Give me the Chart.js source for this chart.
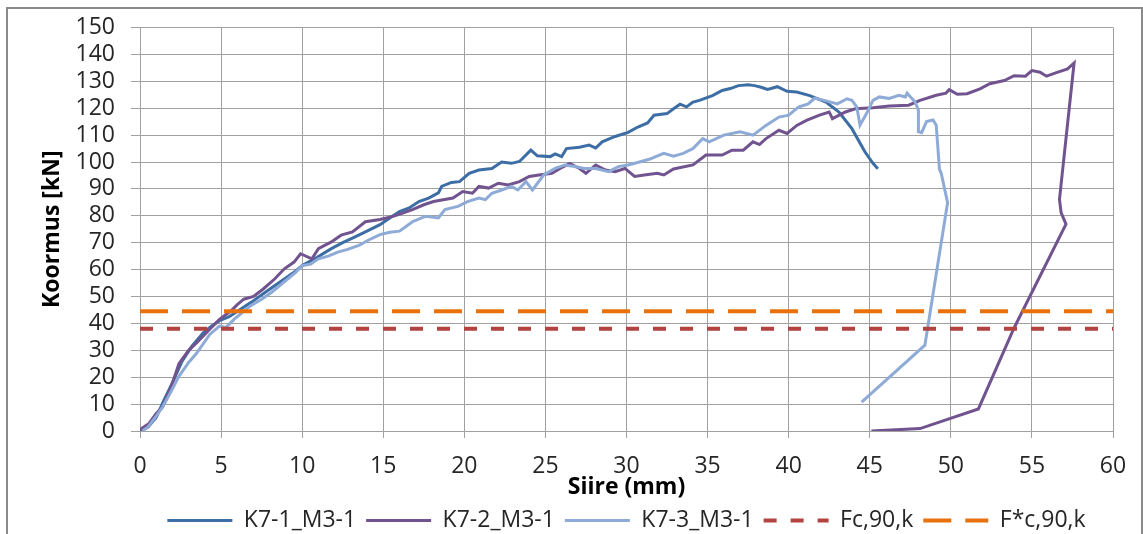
<!DOCTYPE html>
<html>
<head>
<meta charset="utf-8">
<script src="https://cdn.jsdelivr.net/npm/chart.js@4"></script>
<style>
  html, body { margin: 0; padding: 0; overflow: hidden; background: #fff; }
  #wrap { position: relative; width: 1143px; height: 542px; }
  #frame { position: absolute; left: 6px; top: 7px; width: 1137px; height: 560px;
           border: 2px solid #8a8a8a; box-sizing: border-box; pointer-events: none; }
</style>
</head>
<body>
<div id="wrap">
  <canvas id="chart" width="1143" height="542"></canvas>
  <div id="frame"></div>
</div>
<script>
// K7-1_M3-1
const k71X = [0, 0.5, 1.0, 1.4, 2.0, 2.6, 3.2, 3.9, 4.4, 4.9, 5.5, 6.2, 6.9, 7.6, 8.3, 8.9, 9.5, 10.0, 10.9, 11.8,
  12.5, 13.2, 13.9, 14.8, 15.4, 16.0, 16.6, 17.2, 17.8, 18.4, 18.6, 19.2, 19.7, 20.3, 20.9, 21.7, 22.3, 22.9, 23.4, 24.1,
  24.5, 25.3, 25.6, 26.0, 26.3, 27.1, 27.7, 28.1, 28.5, 29.3, 30.1, 30.7, 31.3, 31.7, 32.5, 32.9, 33.3, 33.7, 34.1, 34.5,
  35.3, 35.9, 36.4, 36.9, 37.5, 37.9, 38.3, 38.7, 39.3, 39.9, 40.5, 41.3, 42.3, 43.1, 43.9, 44.7, 45.2, 45.5];
const k71Y = [0, 1.5, 5, 10.5, 18, 26, 31.5, 36.5, 39, 41, 42.5, 45.3, 48, 51, 54, 56.5, 59, 61.5, 64.5, 67.8,
  70, 72, 74, 76.7, 79.2, 81.6, 82.9, 85.3, 86.6, 88.5, 90.9, 92.4, 92.7, 95.8, 97, 97.6, 100, 99.5, 100.2, 104.4,
  102.3, 102, 103, 102, 105, 105.5, 106.3, 105.2, 107.5, 109.5, 111, 113, 114.5, 117.4, 118, 119.8, 121.5, 120.5, 122.3, 122.9,
  124.7, 126.6, 127.3, 128.4, 128.7, 128.4, 127.8, 127, 128, 126.3, 126, 124.7, 122.3, 118.6, 112.4, 103.8, 99.5, 97.5];

// K7-2_M3-1
const k72X = [0, 0.56, 1.0, 1.4, 1.9, 2.4, 3.0, 3.5, 4.3, 4.9, 5.6, 6.0, 6.4, 7.0, 7.6, 8.3, 8.9, 9.5, 9.9, 10.6,
  11.0, 11.8, 12.4, 13.1, 13.9, 14.8, 15.6, 16.2, 16.8, 17.5, 18.1, 18.7, 19.3, 19.9, 20.5, 20.9, 21.5, 22.1, 22.7, 23.4,
  24.0, 24.6, 25.4, 25.9, 26.5, 27.1, 27.5, 28.1, 28.7, 29.3, 29.9, 30.5, 31.1, 31.9, 32.3, 32.9, 34.1, 34.9, 35.9, 36.5,
  37.2, 37.8, 38.2, 38.6, 39.4, 39.9, 40.5, 41.1, 41.9, 42.5, 42.7, 43.5, 44.1, 45.2, 46.2, 47.4, 48.1, 49.1, 49.7, 49.9,
  50.4, 51.0, 51.8, 52.4, 53.3, 53.9, 54.6, 55.0, 55.5, 55.9, 56.6, 57.2, 57.6, 56.7, 56.8, 57.1, 53.9, 51.7, 48.1, 45.1];
const k72Y = [0.5, 2.8, 6.5, 9, 16, 25, 30, 32.8, 37.8, 41.5, 44.6, 47, 49, 50, 52.8, 56.5, 60.3, 62.8, 65.9, 64,
  67.8, 70.3, 72.8, 74, 77.8, 78.6, 79.8, 81, 82.3, 84.1, 85.3, 86, 86.6, 89, 88.4, 90.9, 90.3, 92.1, 91.5, 92.7,
  94.6, 95.2, 95.8, 97.6, 99.5, 97.6, 95.8, 98.9, 97, 96.4, 97.6, 94.6, 95.2, 95.8, 95.2, 97.4, 98.9, 102.6, 102.6, 104.4,
  104.4, 107.5, 106.5, 108.7, 111.8, 110.6, 113.6, 115.5, 117.4, 118.6, 116.1, 118.6, 119.8, 120.2, 120.8, 121.1, 122.9, 124.8, 125.6, 126.9,
  125.2, 125.4, 127.2, 129.1, 130.3, 132.1, 131.9, 134, 133.4, 131.9, 133.4, 134.6, 136.8, 86.1, 81.2, 76.9, 38.3, 8.2, 0.9, 0];

// K7-3_M3-1
const k73X = [0.15, 0.5, 1.0, 1.4, 1.9, 2.4, 3.0, 3.5, 4.3, 4.9, 5.3, 5.8, 6.3, 6.8, 7.5, 8.1, 8.6, 9.1, 9.6, 10.0,
  10.5, 11.0, 11.6, 12.2, 12.8, 13.5, 14.1, 14.8, 15.4, 16.0, 16.4, 16.8, 17.6, 18.4, 18.8, 19.6, 20.2, 20.9, 21.3, 21.7,
  22.3, 22.9, 23.3, 23.8, 24.2, 24.5, 24.9, 25.6, 26.2, 26.8, 27.4, 28.1, 28.9, 29.5, 30.1, 30.8, 31.4, 32.3, 32.9, 33.5,
  34.1, 34.7, 35.1, 36.0, 37.0, 37.8, 38.6, 39.4, 40.0, 40.6, 41.2, 41.6, 42.2, 43.0, 43.6, 43.9, 44.2, 44.4, 44.8, 45.2,
  45.6, 46.2, 46.8, 47.2, 47.3, 47.8, 48.0, 48.0, 48.2, 48.5, 48.9, 49.1, 49.3, 49.4, 49.8, 48.4, 44.5];
const k73Y = [0, 1.5, 5.5, 9, 14.5, 20.3, 25.5, 29, 35.9, 39, 38.5, 41.5, 44, 46.5, 49, 51.5, 54, 56.5, 59, 61.5,
  62, 64, 65, 66.5, 67.5, 69, 71, 73, 73.9, 74.3, 76, 77.8, 79.8, 79.2, 82.3, 83.5, 85.3, 86.6, 86, 88.4,
  89.6, 90.9, 89.6, 92.7, 89.6, 92, 95.2, 97.6, 98.9, 98.3, 97.6, 97.6, 96.4, 98.3, 98.9, 100, 101, 103.2, 102.2, 103.2,
  105, 108.7, 107.5, 110, 111.2, 110, 113.6, 116.7, 117.4, 120.4, 121.6, 123.7, 122.9, 121.6, 123.5, 122.9, 120.5, 113.7, 118, 122.9,
  124.2, 123.6, 124.8, 124.2, 125.6, 122.3, 119.3, 111.3, 110.9, 115, 115.6, 113.7, 97.2, 96, 84.9, 31.9, 10.7];

// reference levels
const levelX = [0, 60];
const fcLevel = 38;
const fStarLevel = 44.5;

const xTicks = { min: 0, max: 60, step: 5 };
const yTicks = { min: 0, max: 150, step: 10 };

const pts = (xs, ys) => xs.map((x, i) => ({ x: x, y: ys[i] }));
const flat = (v) => levelX.map(x => ({ x: x, y: v }));

const textColor = '#262626';
const gridColor = '#a0a0a0';
const fontSize = 23;

Chart.defaults.font.family = '"Open Sans", sans-serif';
Chart.defaults.color = textColor;

const series = (label, data, color, width, dash, order) => ({
  label: label,
  data: data,
  borderColor: color,
  backgroundColor: color,
  borderWidth: width,
  borderDash: dash,
  showLine: true,
  pointRadius: 0,
  pointHoverRadius: 0,
  tension: 0,
  fill: false,
  order: order
});

const ctx = document.getElementById('chart').getContext('2d');
new Chart(ctx, {
  type: 'scatter',
  data: {
    datasets: [
      series('K7-1_M3-1', pts(k71X, k71Y), '#3c6ea5', 3, [], 5),
      series('K7-2_M3-1', pts(k72X, k72Y), '#71548f', 3, [], 4),
      series('K7-3_M3-1', pts(k73X, k73Y), '#8eaad6', 3, [], 3),
      series('Fc,90,k', flat(fcLevel), '#b2433f', 4, [13, 14], 2),
      series('F*c,90,k', flat(fStarLevel), '#e8710d', 4, [28, 14], 1)
    ]
  },
  options: {
    responsive: false,
    animation: false,
    layout: { padding: { top: 13.5, left: 27, right: 30, bottom: 0 } },
    scales: {
      x: {
        type: 'linear',
        min: xTicks.min,
        max: xTicks.max,
        afterFit: (scale) => { scale.height = 68; },
        ticks: { stepSize: xTicks.step, font: { size: fontSize, lineHeight: 1 }, color: textColor, padding: 16.5, maxRotation: 0, autoSkip: false },
        grid: { color: gridColor, tickLength: 7, lineWidth: 1 },
        border: { color: gridColor },
        title: { display: true, text: 'Siire (mm)', color: '#000', font: { size: fontSize, weight: 'bold', lineHeight: 1 }, padding: { top: 0, bottom: 0 } }
      },
      y: {
        type: 'linear',
        min: yTicks.min,
        max: yTicks.max,
        afterFit: (scale) => { scale.width = 113; },
        ticks: { stepSize: yTicks.step, font: { size: fontSize, lineHeight: 1 }, color: textColor, padding: 16 },
        grid: { color: gridColor, tickLength: 9, lineWidth: 1 },
        border: { color: gridColor },
        title: { display: true, text: 'Koormus [kN]', color: '#000', font: { size: fontSize, weight: 'bold', lineHeight: 1 }, padding: { top: 13.5, bottom: 13.5 } }
      }
    },
    plugins: {
      tooltip: { enabled: false },
      legend: {
        position: 'bottom',
        fullSize: false,
        labels: {
          usePointStyle: true,
          pointStyleWidth: 65,
          padding: 10,
          font: { size: fontSize, lineHeight: 1 },
          color: textColor,
          generateLabels: (chart) => chart.data.datasets.map((ds, i) => ({
            text: ds.label,
            strokeStyle: ds.borderColor,
            fillStyle: ds.borderColor,
            lineWidth: ds.borderWidth,
            lineDash: ds.borderDash,
            lineCap: 'butt',
            pointStyle: 'line',
            fontColor: textColor,
            hidden: false,
            datasetIndex: i
          }))
        }
      }
    }
  }
});
</script>
</body>
</html>
